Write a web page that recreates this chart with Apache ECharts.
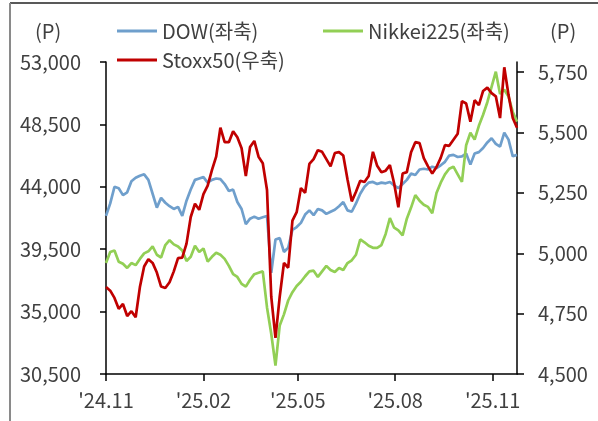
<!DOCTYPE html>
<html>
<head>
<meta charset="utf-8">
<script src="https://cdn.jsdelivr.net/npm/echarts@6/dist/echarts.min.js"></script>
<style>
html,body{margin:0;padding:0;background:#fff;}
#chart{width:598px;height:421px;}
</style>
</head>
<body>
<div id="chart"></div>
<script>
// Day offsets from 2024-11-01, one sample every 4 days
const dayStep = 4;
const xTickDays = [0, 92, 181, 273, 365];
const xTickLabels = ["'24.11", "'25.02", "'25.05", "'25.08", "'25.11"];
const leftTicks = [30500, 35000, 39500, 44000, 48500, 53000];
const rightTicks = [4500, 4750, 5000, 5250, 5500, 5750];

const seriesNames = ['DOW(좌축)', 'Nikkei225(좌축)', 'Stoxx50(우축)'];

const dow = [
41900,42800,44000,43900,43400,43600,44400,44650,44800,44900,
44500,43500,42500,43200,42850,42600,42400,42550,41900,43000,
43800,44500,44600,44700,44300,44500,44600,44550,44200,43700,
43800,42900,42400,41300,41700,41850,41700,41800,41900,37800,
40200,40300,39300,39600,40900,41100,41400,42000,42300,41950,
42400,42300,42050,42200,42350,42600,42900,42300,42200,42800,
43500,44000,44300,44350,44200,44300,44250,44350,44100,43900,
44200,44500,44950,44850,45250,45300,45250,45450,45350,45550,
45800,46250,46300,46150,46200,46400,45600,46400,46500,46800,
47200,47500,47100,46900,47900,47400,46200,46300
];

const nikkei = [
38500,39300,39400,38600,38450,38150,38500,38350,38800,39200,
39350,39700,39100,38900,39800,40150,39850,39700,39400,38650,
38950,39750,39300,39550,38600,38950,39250,39100,38800,38300,
37700,37500,37000,36800,37300,37700,37800,37900,35300,33400,
31100,34000,34800,35800,36400,36850,37150,37550,37900,37950,
37500,37900,38300,38000,37850,38150,38000,38500,38700,39100,
40200,40000,39750,39600,39600,39800,40600,41750,41050,40850,
40500,41700,42500,43400,43000,42700,42550,42100,43550,44300,
44900,45300,45450,44900,44350,47000,47900,47400,48400,49200,
50100,51200,52300,50700,51000,50500,49400,48700
];

const stoxx = [
4860,4845,4815,4770,4790,4740,4760,4735,4860,4945,
4975,4960,4920,4862,4856,4880,4925,4980,4982,5040,
5150,5205,5180,5245,5280,5344,5400,5520,5460,5460,
5505,5480,5435,5320,5440,5465,5400,5373,5262,4820,
4650,4820,4960,4940,5135,5170,5270,5250,5370,5390,
5427,5420,5390,5360,5415,5419,5405,5305,5215,5255,
5300,5295,5320,5420,5362,5335,5342,5365,5290,5190,
5330,5336,5418,5460,5456,5394,5360,5330,5357,5395,
5448,5445,5470,5495,5630,5620,5545,5634,5613,5672,
5686,5663,5650,5560,5770,5655,5560,5520
];

function toPairs(arr){ return arr.map((v,i)=>[i*dayStep, v]); }
const fmt = v => Number(v).toLocaleString('en-US');
const FONT = "'Noto Sans CJK KR', 'Noto Sans', sans-serif";
const TXT = '#404040';

const chart = echarts.init(document.getElementById('chart'), null, {renderer:'canvas'});
const legendBase = {
  icon: 'rect', itemWidth: 40, itemHeight: 3, itemGap: 4,
  textStyle: {fontSize: 20, color: TXT, fontFamily: FONT, padding:[0,0,0,0]},
  padding: 0, selectedMode: false
};
chart.setOption({
  animation: false,
  backgroundColor: '#fff',
  grid: {left: 106, right: 81, top: 62, bottom: 47},
  legend: [
    Object.assign({}, legendBase, {data:[seriesNames[0]], left: 117, top: 21}),
    Object.assign({}, legendBase, {data:[seriesNames[1]], left: 323, top: 21}),
    Object.assign({}, legendBase, {data:[seriesNames[2]], left: 117, top: 50})
  ],
  graphic: [
    {type:'line', shape:{x1:10,y1:3,x2:598,y2:3}, style:{stroke:'#222', lineWidth:1.5}},
    {type:'line', shape:{x1:10,y1:3,x2:10,y2:421}, style:{stroke:'#8a8a8a', lineWidth:2}},
    {type:'text', left: 35, top: 21, style:{text:'(P)', fontSize:20, fill:TXT, fontFamily:FONT}},
    {type:'text', left: 550, top: 21, style:{text:'(P)', fontSize:20, fill:TXT, fontFamily:FONT}}
  ],
  xAxis: {
    type: 'value', min: 0, max: 388,
    axisLine: {lineStyle:{color:'#000', width:1.5}},
    axisTick: {show:true, length:7, lineStyle:{color:'#000', width:1.5}, customValues: xTickDays},
    axisLabel: {customValues: xTickDays, margin: 16, fontSize: 20, color: TXT, fontFamily: FONT,
      formatter: v => { const i = xTickDays.indexOf(v); return i >= 0 ? xTickLabels[i] : ''; }},
    splitLine: {show:false}
  },
  yAxis: [
    {
      type: 'value', min: 30500, max: 53000, interval: 4500, position: 'left',
      axisLine: {show:true, lineStyle:{color:'#000', width:1.5}},
      axisTick: {show:true, length:6, lineStyle:{color:'#000', width:1.5}},
      axisLabel: {margin: 25, fontSize: 20, color: TXT, fontFamily: FONT, formatter: fmt},
      splitLine: {show:false}
    },
    {
      type: 'value', min: 4500, max: 5792, position: 'right',
      axisLine: {show:true, lineStyle:{color:'#000', width:1.5}},
      axisTick: {show:true, length:7, lineStyle:{color:'#000', width:1.5}, customValues: rightTicks},
      axisLabel: {customValues: rightTicks, margin: 21, fontSize: 20, color: TXT, fontFamily: FONT, formatter: fmt},
      splitLine: {show:false}
    }
  ],
  series: [
    {name: seriesNames[0], type:'line', yAxisIndex:0, data: toPairs(dow), showSymbol:false, symbol:'none',
     lineStyle:{color:'#6f9fcc', width:2.7}, itemStyle:{color:'#6f9fcc'}},
    {name: seriesNames[1], type:'line', yAxisIndex:0, data: toPairs(nikkei), showSymbol:false, symbol:'none',
     lineStyle:{color:'#92cf55', width:2.7}, itemStyle:{color:'#92cf55'}},
    {name: seriesNames[2], type:'line', yAxisIndex:1, data: toPairs(stoxx), showSymbol:false, symbol:'none',
     lineStyle:{color:'#c00000', width:2.7}, itemStyle:{color:'#c00000'}}
  ]
});
</script>
</body>
</html>
